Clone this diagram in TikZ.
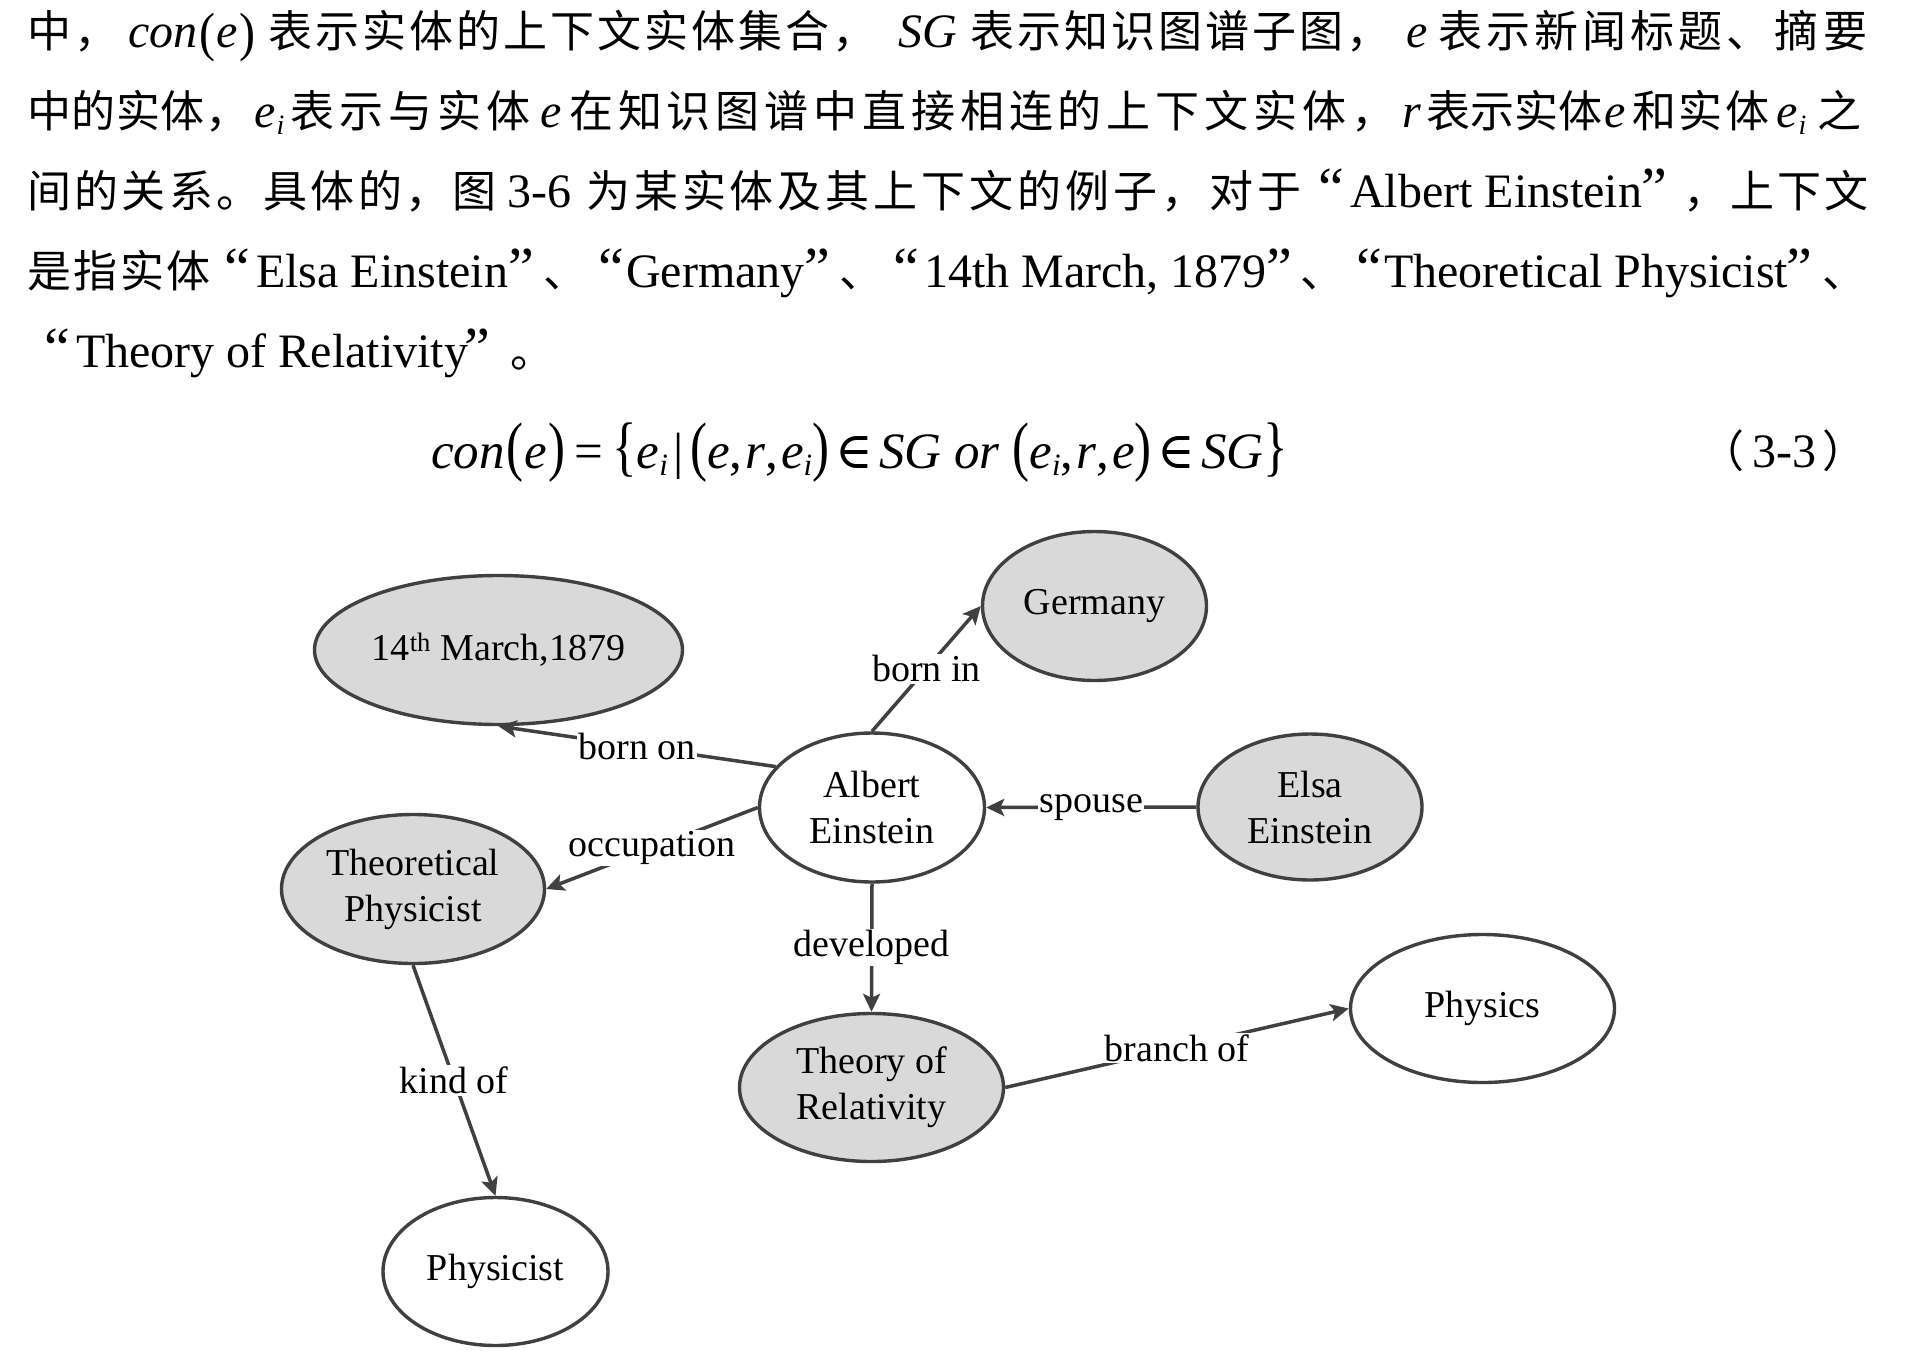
\documentclass[tikz,border=0pt]{standalone}
\usepackage{fontspec}
\usepackage{graphicx}
\setmainfont{Liberation Serif}
\newfontfamily\cjkfont{Noto Sans CJK SC}
\newfontfamily\symfont{DejaVu Serif}
\usetikzlibrary{arrows.meta,shapes.geometric}

\definecolor{edgegray}{HTML}{404040}
\definecolor{entgray}{HTML}{D9D9D9}

% spread a run of Chinese characters evenly over a given width
\ExplSyntaxOn
\cs_new:Npn \spreadchars #1 { \tl_map_inline:nn {#1} { ##1 \hfil } }
\ExplSyntaxOff
\newcommand\at[2]{\hbox to 0pt{\hskip #1pt\relax #2\hss}\ignorespaces}
\newcommand\zr[3]{\at{#1}{\hbox to \dimexpr #2pt-#1pt\relax{\fontsize{44}{48}\selectfont\cjkfont\spreadchars{#3}}}}
\newcommand\zh[1]{{\fontsize{44}{48}\selectfont\cjkfont #1}}
% one text line of the given width, its pieces placed by \at / \zr
\newcommand\textline[1]{\hbox to 1871pt{#1\hfil}}
% inline italic symbols
\newcommand\mi[1]{{\fontsize{48}{52}\selectfont\itshape #1}}
\newcommand\ei{\mi{e}\kern1pt\raisebox{-7pt}{\fontsize{28}{28}\selectfont\itshape i}}
\newcommand\SP[1]{\raisebox{-3pt}{\scalebox{1}[1.12]{\fontsize{48}{52}\selectfont #1}}}
\newcommand\oq{{\fontsize{58}{60}\selectfont “}}
\newcommand\cq{{\fontsize{58}{60}\selectfont ”}}
% display equation pieces
\newcommand\BP[1]{\scalebox{1}[1.29]{#1}}
\newcommand\fsub[1]{\raisebox{-7pt}{\fontsize{31}{31}\selectfont\itshape #1}}

\begin{document}
\begin{tikzpicture}[x=1pt,y=-1pt,
  ent/.style={ellipse, draw=edgegray, line width=3.4pt, fill=entgray, inner sep=0pt,
    align=center, font=\fontsize{38}{46}\selectfont},
  entw/.style={ent, fill=white},
  rel/.style={draw=edgegray, line width=3.5pt,
    -{Stealth[length=18pt,width=17pt,inset=4pt]}},
  lab/.style={fill=white, inner sep=1.5pt, font=\fontsize{38}{46}\selectfont},
  line/.style={anchor=base west, inner sep=0pt, font=\fontsize{48}{80}\selectfont}]

\useasboundingbox (0,0) rectangle (1915,1366);
\fill[white] (0,0) rectangle (1915,1366);

% paragraph
\node[line] (p1) at (0,47) {\textline{%
\zr{27}{121}{中，}
\at{128}{\mi{con}\kern2pt\SP{(}\kern1pt\mi{e}\kern2pt\SP{)}}
\zr{268}{879}{表示实体的上下文实体集合，}
\at{898}{\mi{SG}}
\zr{970}{1393}{表示知识图谱子图，}
\at{1406}{\mi{e}}
\zr{1438}{1871}{表示新闻标题、摘要}}};

\node[line] (p2) at (0,127) {\textline{%
\zr{27}{250}{中的实体，}
\at{254}{\ei}
\zr{290}{536}{表示与实体}
\at{540}{\mi{e}}
\zr{569}{1400}{在知识图谱中直接相连的上下文实体，}
\at{1402}{\mi{r}}
\zr{1426}{1590}{表示实体}
\at{1604}{\mi{e}}
\zr{1632}{1772}{和实体}
\at{1776}{\ei}
\zr{1817}{1871}{之}}};

\node[line] (p3) at (0,207) {\textline{%
\zr{27}{500}{间的关系。具体的，图}
\at{507}{3-6}
\zr{586}{1305}{为某实体及其上下文的例子，对于}
\at{1318}{\oq}
\at{1350}{Albert Einstein}
\at{1641}{\cq}
\zr{1683}{1871}{，上下文}}};

\node[line] (p4) at (0,287) {\textline{%
\zr{27}{213}{是指实体}
\at{224}{\oq}
\at{256}{Elsa Einstein}
\at{508}{\cq}
\at{543}{\zh{、}}
\at{598}{\oq}
\at{626}{Germany}
\at{804}{\cq}
\at{839}{\zh{、}}
\at{893}{\oq}
\at{924}{14th March, 1879}
\at{1266}{\cq}
\at{1300}{\zh{、}}
\at{1356}{\oq}
\at{1384}{Theoretical Physicist}
\at{1786}{\cq}
\at{1822}{\zh{、}}}};

\node[line] (p5) at (0,367) {\textline{%
\at{44}{\oq}
\at{76}{Theory of Relativity}
\at{464}{\cq}
\at{510}{\zh{。}}}};

% equation
\node[anchor=base west, inner sep=0pt, font=\fontsize{51}{60}\selectfont] (eq) at (431,468) {%
\textit{con}\kern2pt\BP{(}\kern1pt\textit{e}\kern1pt\BP{)}\hspace{9pt}=\hspace{9pt}\BP{\{}\textit{e}\fsub{i}\hspace{6pt}|\hspace{6pt}%
\BP{(}\textit{e},\hspace{3pt}\textit{r},\hspace{3pt}\textit{e}\fsub{i}\BP{)}\hspace{6pt}{\symfont ∈}\hspace{6pt}\textit{SG or }%
\BP{(}\textit{e}\fsub{i},\hspace{3pt}\textit{r},\hspace{3pt}\textit{e}\BP{)}\hspace{6pt}{\symfont ∈}\hspace{6pt}\textit{SG}\BP{\}}};
\node[anchor=base west, inner sep=0pt, font=\fontsize{48}{60}\selectfont] (eqno) at (1700,467) {%
\hbox to 160pt{\at{0}{\zh{（}}\at{52}{3-3}\at{122}{\zh{）}}\hfil}};

% knowledge graph
\node[entw, minimum width=225pt, minimum height=149pt] (ae) at (872,807.5) {Albert\\Einstein};
\node[ent, minimum width=224pt, minimum height=149pt] (de) at (1094.5,606) {Germany};
\node[ent, minimum width=368pt, minimum height=149pt] (bd) at (498.5,650) {14\textsuperscript{th} March,1879};
\node[ent, minimum width=263pt, minimum height=149pt] (tp) at (413,889) {Theoretical\\Physicist};
\node[ent, minimum width=224pt, minimum height=146pt] (elsa) at (1310,807) {Elsa\\Einstein};
\node[ent, minimum width=264pt, minimum height=148pt] (tor) at (871.5,1087.5) {Theory of\\Relativity};
\node[entw, minimum width=264pt, minimum height=148pt] (phy) at (1482.5,1008.5) {Physics};
\node[entw, minimum width=225pt, minimum height=148pt] (pst) at (495.5,1271.5) {Physicist};

\draw[rel] (ae.157) -- node[lab] {born on} (bd.south);
\draw[rel] (ae.north) -- node[lab] {born in} (de.west);
\draw[rel] (ae.west) -- node[lab] {occupation} (tp.east);
\draw[rel] (elsa.west) -- node[lab] {spouse} (ae.east);
\draw[rel] (ae.south) -- node[lab] {developed} (tor.north);
\draw[rel] (tor.east) -- node[lab] {branch of} (phy.west);
\draw[rel] (tp.south) -- node[lab] {kind of} (pst.north);
\end{tikzpicture}
\end{document}
